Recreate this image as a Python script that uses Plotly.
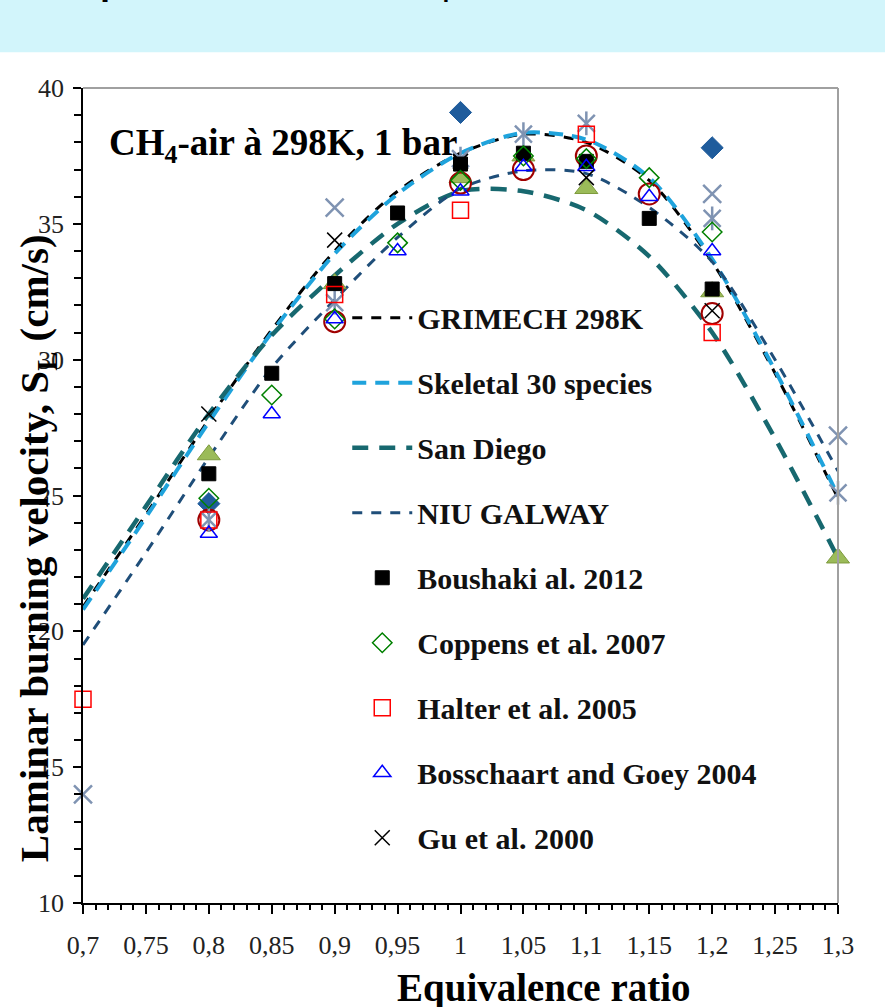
import plotly.graph_objects as go

# -----------------------------
# DATA
# -----------------------------
phi_model = [0.70, 0.75, 0.80, 0.85, 0.90, 0.95, 1.00, 1.05, 1.10, 1.15, 1.20, 1.25, 1.30]
grimech = [20.9, 24.3, 27.8, 31.1, 34.0, 36.2, 37.6, 38.3, 38.0, 36.6, 33.6, 29.5, 24.9]
skeletal = [20.8, 24.2, 27.7, 31.0, 33.9, 36.1, 37.6, 38.35, 38.1, 36.7, 33.7, 29.6, 25.0]
san_diego = [21.2, 24.6, 28.0, 30.9, 33.1, 35.0, 36.2, 36.2, 35.5, 33.8, 31.0, 27.1, 22.7]
niu_galway = [19.5, 22.9, 26.4, 29.7, 32.2, 34.5, 36.3, 36.95, 36.85, 35.6, 33.6, 30.0, 25.9]

boushaki_phi = [0.80, 0.85, 0.90, 0.95, 1.00, 1.05, 1.10, 1.15, 1.20]
boushaki_su = [25.8, 29.5, 32.8, 35.4, 37.2, 37.6, 37.3, 35.2, 32.6]

coppens_phi = [0.80, 0.85, 0.90, 0.95, 1.00, 1.05, 1.10, 1.15, 1.20]
coppens_su = [24.9, 28.7, 31.5, 34.3, 36.6, 37.5, 37.4, 36.7, 34.7]

halter_phi = [0.70, 0.80, 0.90, 1.00, 1.10, 1.20]
halter_su = [17.5, 24.1, 32.4, 35.5, 38.3, 31.0]

bosschaart_phi = [0.80, 0.85, 0.90, 0.95, 1.00, 1.05, 1.10, 1.15, 1.20]
bosschaart_su = [23.6, 28.0, 31.5, 34.0, 36.2, 37.1, 37.1, 36.0, 34.0]

gu_phi = [0.80, 0.90, 1.00, 1.10, 1.20]
gu_su = [28.0, 34.4, 37.3, 36.7, 31.8]

# other data sets plotted without a legend entry
diamond_phi = [0.80, 1.00, 1.20]
diamond_su = [24.7, 39.1, 37.8]

cross_phi = [0.70, 0.90, 1.20, 1.30]
cross_su = [14.0, 35.6, 36.1, 27.2]

star_phi = [0.80, 0.90, 1.00, 1.05, 1.10, 1.20, 1.30]
star_su = [24.1, 32.1, 37.4, 38.3, 38.7, 35.2, 25.1]

circle_phi = [0.80, 0.90, 1.00, 1.05, 1.10, 1.15, 1.20]
circle_su = [24.1, 31.4, 36.5, 37.0, 37.5, 36.1, 31.7]

olive_phi = [0.80, 0.90, 1.00, 1.05, 1.10, 1.20, 1.30]
olive_su = [26.5, 32.8, 36.7, 37.5, 36.3, 32.5, 22.7]

SERIF = "Liberation Serif, Times New Roman, serif"

fig = go.Figure()

# -----------------------------
# MODEL CURVES
# -----------------------------
curves = [
    ("GRIMECH 298K", grimech, "#000000", 3, "10px,9px"),
    ("Skeletal 30 species", skeletal, "#1fa3dc", 4, "14px,9px"),
    ("San Diego", san_diego, "#17686f", 4.5, "16px,11px"),
    ("NIU GALWAY", niu_galway, "#1f4e79", 3, "10px,9px"),
]
for i, (name, vals, col, w, dash) in enumerate(curves):
    fig.add_trace(go.Scatter(
        x=phi_model, y=vals, mode="lines", name=name,
        line=dict(color=col, width=w, dash=dash, shape="spline", smoothing=0.8),
        legendgroup=f"g{i}", legendrank=i + 1
    ))

# -----------------------------
# UNLABELED EXPERIMENTS
# -----------------------------
extra = [
    (diamond_phi, diamond_su, "diamond", 17, "#1f5c9c", "#1f5c9c", 1),
    (olive_phi, olive_su, "triangle-up", 20, "#9bbb59", "#7d9a3c", 1),
    (circle_phi, circle_su, "circle-open", 21, "#a00000", "#a00000", 2),
    (cross_phi, cross_su, "x-thin-open", 18, "#7f93b2", "#7f93b2", 2.5),
    (star_phi, star_su, "x-thin-open", 17, "#7f93b2", "#7f93b2", 2.5),
    (star_phi, star_su, "line-ns-open", 17, "#7f93b2", "#7f93b2", 2.5),
]
for xs, ys, sym, size, fill, edge, lw in extra:
    fig.add_trace(go.Scatter(
        x=xs, y=ys, mode="markers", showlegend=False, cliponaxis=False,
        marker=dict(symbol=sym, size=size, color=fill, line=dict(color=edge, width=lw))
    ))

# -----------------------------
# LEGEND EXPERIMENTS
# -----------------------------
exps = [
    ("Boushaki al. 2012", boushaki_phi, boushaki_su, "square", 14, "#000000", 1),
    ("Coppens et al. 2007", coppens_phi, coppens_su, "diamond-open", 15, "#008000", 1.5),
    ("Halter et al. 2005", halter_phi, halter_su, "square-open", 16, "#ff0000", 1.5),
    ("Bosschaart and Goey 2004", bosschaart_phi, bosschaart_su, "triangle-up-open", 15, "#0000ff", 1.5),
    ("Gu et al. 2000", gu_phi, gu_su, "x-thin-open", 15, "#000000", 1.5),
]
for j, (name, xs, ys, sym, size, col, lw) in enumerate(exps):
    fig.add_trace(go.Scatter(
        x=xs, y=ys, mode="markers", name=name, cliponaxis=False,
        marker=dict(symbol=sym, size=size, color=col, line=dict(color=col, width=lw)),
        legendgroup=f"e{j}", legendrank=10 + j
    ))

# -----------------------------
# LAYOUT
# -----------------------------
tickfont = dict(family=SERIF, size=26, color="#222222")
fig.update_layout(
    width=885, height=1007, autosize=False,
    margin=dict(l=83, r=47, t=88, b=104),
    paper_bgcolor="white", plot_bgcolor="white",
    separators=", ",
    showlegend=True,
    legend=dict(
        x=0.35, y=0.75, xanchor="left", yanchor="top",
        bgcolor="rgba(0,0,0,0)", traceorder="grouped", tracegroupgap=23,
        font=dict(family=SERIF, size=30, color="#111111", weight="bold"),
        itemwidth=60
    ),
    xaxis=dict(
        range=[0.7, 1.3], tick0=0.7, dtick=0.05, showgrid=False, zeroline=False,
        showline=True, linecolor="#000000", linewidth=1.5,
        ticks="outside", ticklen=9, tickwidth=1.5, tickcolor="#000000",
        minor=dict(dtick=0.01, ticks="outside", ticklen=5, tickcolor="#000000", showgrid=False),
        tickfont=tickfont, ticklabelstandoff=9
    ),
    yaxis=dict(
        range=[10, 40], tick0=10, dtick=5, showgrid=False, zeroline=False,
        showline=True, linecolor="#000000", linewidth=1.5,
        ticks="outside", ticklen=8, tickwidth=1.5, tickcolor="#000000",
        minor=dict(dtick=1, ticks="outside", ticklen=7, tickcolor="#000000", showgrid=False),
        tickfont=tickfont, ticklabelstandoff=4
    ),
    shapes=[
        # header band of the slide
        dict(type="rect", xref="paper", yref="paper", x0=-0.12, x1=1.08, y0=1.044, y1=1.12,
             fillcolor="#d2f5fb", line=dict(width=0), layer="below"),
        # grey frame on top and right
        dict(type="line", xref="paper", yref="paper", x0=0, x1=1, y0=1, y1=1,
             line=dict(color="#a0a0a0", width=2)),
        dict(type="line", xref="paper", yref="paper", x0=1, x1=1, y0=0, y1=1,
             line=dict(color="#a0a0a0", width=2)),
    ],
    annotations=[
        # slide title, only its lower edge is inside the picture
        dict(text="<b>Equivalence ratio: CH<sub>4</sub> air, at 298 K, 1 bar</b>", xref="paper", yref="paper",
             x=0.44, y=1.097, xanchor="center", yanchor="bottom", showarrow=False,
             font=dict(family="Liberation Sans, Arial", size=36, color="#000000")),
        dict(text="<b>CH<sub>4</sub>-air à 298K, 1 bar</b>", xref="paper", yref="paper",
             x=0.032, y=0.93, xanchor="left", yanchor="middle", showarrow=False,
             font=dict(family=SERIF, size=37, color="#000000")),
        dict(text="<b>Equivalence ratio</b>", xref="paper", yref="paper",
             x=0.61, y=-0.104, xanchor="center", yanchor="middle", showarrow=False,
             font=dict(family=SERIF, size=39, color="#000000")),
        dict(text="<b>Laminar burning velocity, S<sub>L</sub> (cm/s)</b>", xref="paper", yref="paper",
             x=-0.06, y=0.435, xanchor="center", yanchor="middle", showarrow=False, textangle=-90,
             font=dict(family=SERIF, size=41, color="#000000")),
    ],
)

fig.write_html("out.html", config={"displayModeBar": False},
               post_script="document.body.style.margin='0';")
